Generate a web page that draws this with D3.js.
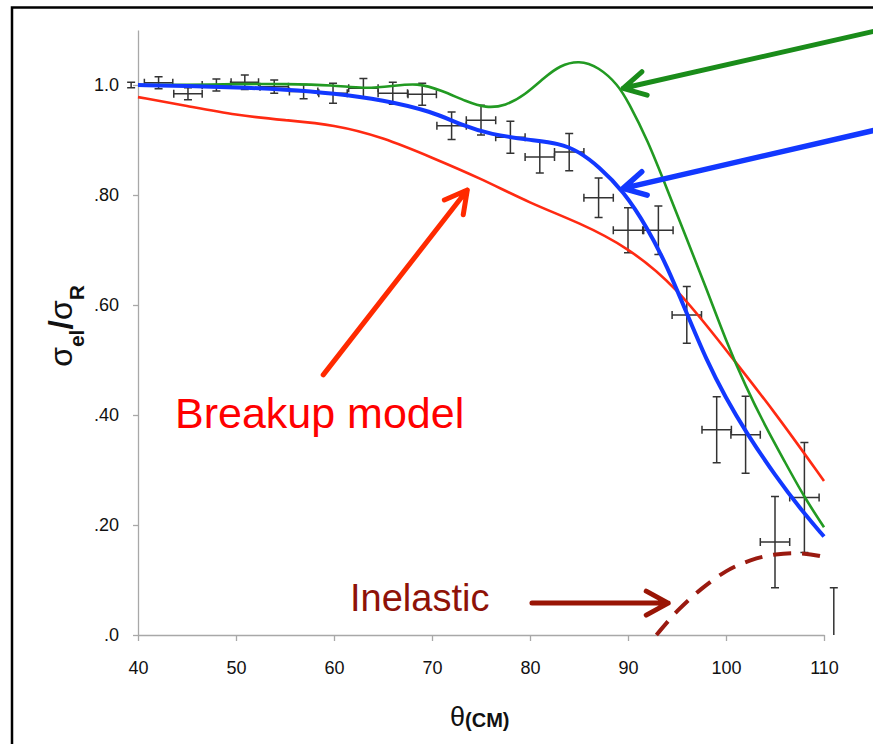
<!DOCTYPE html>
<html>
<head>
<meta charset="utf-8">
<script src="https://cdn.jsdelivr.net/npm/d3@7"></script>
<style>
  html, body { margin: 0; padding: 0; background: #fff; }
  svg { display: block; font-family: "Liberation Sans", Arial, Helvetica, sans-serif; }
</style>
</head>
<body>
<svg id="chart" width="873" height="744"></svg>
<script>
// measured ratio sigma_el / sigma_R versus theta(CM)
var dataTheta = [39.3, 42.1, 45.1, 48.0, 50.9, 53.9, 56.9, 59.9, 63.0, 66.0, 69.0, 72.0, 75.0,
                 78.0, 81.0, 84.0, 87.0, 90.0, 93.1, 96.0, 99.05, 102.0, 105.0, 108.0, 111.0];
var dataRatio = [1.0, 1.004, 0.984, 1.0, 1.005, 0.997, 0.988, 0.985, 0.994, 0.985, 0.983, 0.926, 0.936,
                 0.905, 0.869, 0.878, 0.795, 0.736, 0.736, 0.582, 0.373, 0.364, 0.169, 0.25, 0.026];
var dataThetaErr = [0, 1.45, 1.45, 1.45, 1.4, 1.45, 1.45, 1.45, 1.5, 1.5, 1.45, 1.5, 1.5,
                    1.5, 1.5, 1.5, 1.5, 1.5, 1.5, 1.5, 1.5, 1.5, 1.5, 1.5, 0];
var dataRatioErr = [0.005, 0.011, 0.011, 0.011, 0.013, 0.012, 0.013, 0.018, 0.018, 0.02, 0.02, 0.025, 0.027,
                    0.029, 0.029, 0.034, 0.036, 0.041, 0.044, 0.0515, 0.06, 0.07, 0.083, 0.1, 0.06];

// green model curve
var greenTheta = [40, 45, 50, 55, 60, 63, 66, 68.5, 71, 73.5, 75.5, 77.5, 79.5, 81.5, 83, 85, 87, 89, 90,
                  92, 94, 96, 98, 100, 102, 104, 106, 108, 110];
var greenRatio = [1.0, 1.0, 1.002, 1.002, 1.0, 0.993, 0.998, 1.004, 0.99, 0.97, 0.958, 0.962, 0.982,
                  1.014, 1.035, 1.045, 1.033, 1.0, 0.97, 0.9, 0.81, 0.72, 0.63, 0.535, 0.452, 0.38, 0.315, 0.25, 0.196];

// blue model curve
var blueTheta = [40, 45, 50, 55, 60, 65, 70, 73, 76, 80, 83, 85, 87, 89.5, 92, 94, 96, 98, 100,
                 102, 105, 108, 110];
var blueRatio = [1.0, 0.998, 0.996, 0.992, 0.985, 0.973, 0.952, 0.927, 0.91, 0.9, 0.894, 0.879, 0.852,
                 0.808, 0.74, 0.67, 0.585, 0.5, 0.43, 0.37, 0.29, 0.22, 0.179];

// breakup model (red)
var redTheta = [40, 45, 50, 55, 60, 65, 70, 75, 80, 85, 90, 95, 100, 105, 110];
var redRatio = [0.978, 0.962, 0.945, 0.936, 0.928, 0.905, 0.868, 0.83, 0.785, 0.75, 0.705, 0.632,
                0.518, 0.405, 0.28];

// inelastic contribution (dashed)
var inelTheta = [92.9, 95, 97.5, 100, 102.5, 105, 107.9, 110];
var inelRatio = [0, 0.045, 0.085, 0.118, 0.137, 0.148, 0.15, 0.142];

var xTicks = [40, 50, 60, 70, 80, 90, 100, 110];
var yTicks = [0, 0.2, 0.4, 0.6, 0.8, 1.0];

var svg = d3.select("#chart");
var x = d3.scaleLinear().domain([40, 110]).range([138, 824]);
var y = d3.scaleLinear().domain([0, 1.1]).range([635, 30]);

// frame
svg.append("path")
  .attr("d", "M12,744V7.5H873")
  .attr("fill", "none")
  .attr("stroke", "#000")
  .attr("stroke-width", 2.5);

// axes
var xAxis = svg.append("g")
  .attr("transform", "translate(0," + y(0) + ")")
  .call(d3.axisBottom(x).tickValues(xTicks).tickSize(6).tickSizeOuter(0).tickPadding(20));
var yAxis = svg.append("g")
  .attr("transform", "translate(" + x(40) + ",0)")
  .call(d3.axisLeft(y).tickValues(yTicks).tickSize(5).tickSizeOuter(0).tickPadding(14)
    .tickFormat(function(d){
      if (d === 1) return "1.0";
      if (d === 0) return ".0";
      return d3.format(".2f")(d).replace(/^0/, "");
    }));
[xAxis, yAxis].forEach(function(a){
  a.select(".domain").attr("stroke", "#a8a8a8").attr("stroke-width", 1.3);
  a.selectAll(".tick line").attr("stroke", "#a8a8a8").attr("stroke-width", 1.3);
  a.selectAll(".tick text").attr("fill", "#111").style("font-size", "18px")
    .style("font-family", "'Liberation Sans', Arial, sans-serif");
});

// error bars
var pts = dataTheta.map(function(t, i){
  return {t: t, r: dataRatio[i], dt: dataThetaErr[i], dr: dataRatioErr[i]};
});
var bars = svg.append("g").attr("stroke", "#333").attr("stroke-width", 1.5).attr("fill", "none");
pts.forEach(function(p){
  var cx = x(p.t), cy = y(p.r);
  var top = y(p.r + p.dr), lo = p.r - p.dr, bot = y(Math.max(lo, 0));
  var cap = 4;
  var d = "M" + cx + "," + top + "V" + bot + "M" + (cx - cap) + "," + top + "H" + (cx + cap);
  if (lo >= 0) d += "M" + (cx - cap) + "," + bot + "H" + (cx + cap);
  if (p.dt > 0) {
    var l = x(p.t - p.dt), r = x(p.t + p.dt);
    d += "M" + l + "," + cy + "H" + r;
    d += "M" + l + "," + (cy - cap) + "V" + (cy + cap);
    d += "M" + r + "," + (cy - cap) + "V" + (cy + cap);
  }
  bars.append("path").attr("d", d);
});

// model curves
var line = d3.line()
  .x(function(d){ return x(d[0]); })
  .y(function(d){ return y(d[1]); })
  .curve(d3.curveBasis);

function zip(a, b){ return a.map(function(v, i){ return [v, b[i]]; }); }

svg.append("path").datum(zip(redTheta, redRatio))
  .attr("d", line).attr("fill", "none").attr("stroke", "#ff2a12").attr("stroke-width", 2.6);
svg.append("path").datum(zip(greenTheta, greenRatio))
  .attr("d", line).attr("fill", "none").attr("stroke", "#229a22").attr("stroke-width", 2.6);
svg.append("path").datum(zip(blueTheta, blueRatio))
  .attr("d", line).attr("fill", "none").attr("stroke", "#1238ff").attr("stroke-width", 4);
svg.append("path").datum(zip(inelTheta, inelRatio))
  .attr("d", line).attr("fill", "none").attr("stroke", "#9a1a10").attr("stroke-width", 4)
  .attr("stroke-dasharray", "18,11");

// annotation arrows (in data coordinates)
function arrow(t0, r0, t1, r1, color, w){
  var x0 = x(t0), y0 = y(r0), x1 = x(t1), y1 = y(r1);
  var ang = Math.atan2(y0 - y1, x0 - x1), len = 25, spread = 0.5;
  var a1 = [x1 + len * Math.cos(ang - spread), y1 + len * Math.sin(ang - spread)];
  var a2 = [x1 + len * Math.cos(ang + spread), y1 + len * Math.sin(ang + spread)];
  svg.append("path")
    .attr("d", "M" + x0 + "," + y0 + "L" + x1 + "," + y1 +
               "M" + a1[0] + "," + a1[1] + "L" + x1 + "," + y1 + "L" + a2[0] + "," + a2[1])
    .attr("fill", "none").attr("stroke", color).attr("stroke-width", w)
    .attr("stroke-linecap", "round").attr("stroke-linejoin", "round");
}
arrow(115.2, 1.098, 89.5, 0.994, "#1a8c1a", 5);
arrow(115.2, 0.918, 89.5, 0.812, "#1238ff", 5.5);
arrow(58.9, 0.473, 73.6, 0.809, "#ff2a00", 5);
arrow(80.2, 0.058, 94.1, 0.058, "#991505", 5);

// labels
svg.append("text").attr("x", 175).attr("y", 428)
  .attr("fill", "#ff0000").style("font-size", "43px").text("Breakup model");
svg.append("text").attr("x", 350).attr("y", 611)
  .attr("fill", "#8e1208").style("font-size", "38px").text("Inelastic");

// axis titles
var yt = svg.append("text")
  .attr("transform", "translate(72,326) rotate(-90)")
  .attr("text-anchor", "middle").attr("fill", "#111");
yt.append("tspan").style("font-size", "32px").text("σ");
yt.append("tspan").attr("dy", 12).style("font-size", "21px").style("font-weight", "bold").text("el");
yt.append("tspan").attr("dy", -12).style("font-size", "34px").style("font-weight", "bold").text("/");
yt.append("tspan").style("font-size", "32px").text("σ");
yt.append("tspan").attr("dy", 12).style("font-size", "21px").style("font-weight", "bold").text("R");

var xt = svg.append("text").attr("x", 450).attr("y", 726).attr("fill", "#111");
xt.append("tspan").style("font-size", "27px").text("θ");
xt.append("tspan").attr("dy", 1).style("font-size", "20px").style("font-weight", "bold").text("(CM)");
</script>
</body>
</html>
